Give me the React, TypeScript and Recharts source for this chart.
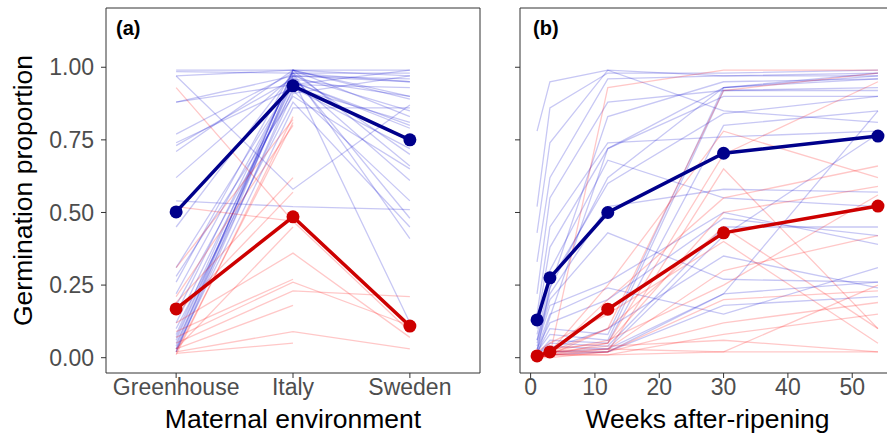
import React from "react"
import { LineChart, Line, XAxis, YAxis, ReferenceArea } from "recharts"

// panel (a): maternal environment
const envLabels = ["Greenhouse", "Italy", "Sweden"]
const envX = [1, 2, 3]
const meanBlueEnv = [0.502, 0.936, 0.75]
const meanRedEnv = [0.168, 0.485, 0.109]

// individual genotypes, one row per line: [Greenhouse, Italy, Sweden]
const blueEnv: (number | null)[][] = [
  [0.99, 0.99, 0.99],
  [0.985, 0.98, 0.98],
  [0.97, 0.58, 0.87],
  [0.97, 0.99, 0.97],
  [0.88, 0.97, 0.96],
  [0.88, 0.94, 0.93],
  [0.77, 0.98, 0.95],
  [0.74, 0.93, 0.81],
  [0.73, 0.96, 0.9],
  [0.71, 0.99, 0.66],
  [0.62, 0.97, 0.85],
  [0.54, 0.52, 0.51],
  [0.45, 0.98, 0.7],
  [0.31, 0.95, 0.79],
  [0.28, 0.9, 0.65],
  [0.26, 0.99, 0.83],
  [0.22, 0.96, 0.61],
  [0.18, 0.92, 0.54],
  [0.15, 0.97, 0.48],
  [0.12, 0.94, 0.99],
  [0.1, 0.88, 0.45],
  [0.08, 0.98, 0.41],
  [0.06, 0.96, 0.12],
  [0.05, 0.91, 0.97],
  [0.04, 0.99, 0.9],
  [0.03, 0.86, 0.86],
  [0.02, 0.93, 0.72],
  [0.02, 0.97, 0.95],
  [0.03, 0.99, 0.89],
  [0.07, 0.95, 0.8],
]

const redEnv: (number | null)[][] = [
  [0.93, 0.47, 0.09],
  [0.52, 0.47, null],
  [0.31, 0.82, null],
  [0.21, 0.8, null],
  [0.19, 0.62, null],
  [0.15, 0.57, null],
  [0.12, 0.36, 0.07],
  [0.09, 0.27, null],
  [0.07, 0.26, 0.11],
  [0.05, 0.23, 0.21],
  [0.03, 0.18, null],
  [0.02, 0.09, 0.03],
  [0.015, 0.05, null],
  [0.01, 0.83, null],
  [0.02, 0.81, null],
  [0.03, 0.45, null],
]

// panel (b): weeks of after-ripening
const weeks = [1, 3, 12, 30, 54]
const weekTicks = [0, 10, 20, 30, 40, 50]
const meanBlueWeeks = [0.13, 0.275, 0.5, 0.704, 0.763]
const meanRedWeeks = [0.006, 0.02, 0.167, 0.43, 0.522]

const blueWeeks: number[][] = [
  [0.78, 0.95, 0.99, 0.97, 0.98],
  [0.52, 0.86, 0.98, 0.98, 0.99],
  [0.43, 0.74, 0.99, 0.85, 0.81],
  [0.33, 0.62, 0.96, 0.97, 0.97],
  [0.22, 0.55, 0.88, 0.92, 0.93],
  [0.15, 0.45, 0.74, 0.76, 0.78],
  [0.12, 0.38, 0.72, 0.93, 0.97],
  [0.1, 0.3, 0.68, 0.55, 0.52],
  [0.08, 0.26, 0.6, 0.84, 0.9],
  [0.06, 0.22, 0.52, 0.58, 0.57],
  [0.05, 0.2, 0.43, 0.27, 0.26],
  [0.04, 0.18, 0.26, 0.5, 0.39],
  [0.03, 0.15, 0.24, 0.15, 0.31],
  [0.03, 0.12, 0.2, 0.48, 0.42],
  [0.02, 0.1, 0.08, 0.93, 0.96],
  [0.02, 0.08, 0.06, 0.92, 0.92],
  [0.01, 0.06, 0.05, 0.8, 0.85],
  [0.01, 0.05, 0.04, 0.45, 0.45],
  [0.01, 0.04, 0.03, 0.22, 0.85],
  [0.0, 0.03, 0.1, 0.35, 0.24],
  [0.0, 0.02, 0.02, 0.18, 0.21],
  [0.0, 0.02, 0.03, 0.42, 0.77],
  [0.02, 0.24, 0.83, 0.95, 0.96],
  [0.01, 0.14, 0.72, 0.9, 0.9],
  [0.0, 0.01, 0.02, 0.22, 0.26],
  [0.06, 0.24, 0.62, 0.93, 0.98],
]

const redWeeks: number[][] = [
  [0.0, 0.01, 0.93, 0.99, 0.99],
  [0.0, 0.02, 0.25, 0.78, 0.62],
  [0.0, 0.02, 0.1, 0.92, 0.98],
  [0.01, 0.03, 0.05, 0.7, 0.95],
  [0.0, 0.01, 0.2, 0.55, 0.66],
  [0.0, 0.01, 0.05, 0.5, 0.59],
  [0.0, 0.02, 0.03, 0.3, 0.42],
  [0.01, 0.02, 0.02, 0.2, 0.23],
  [0.0, 0.01, 0.02, 0.12, 0.19],
  [0.0, 0.01, 0.01, 0.08, 0.15],
  [0.0, 0.01, 0.01, 0.02, 0.02],
  [0.0, 0.0, 0.02, 0.65, 0.1],
  [0.0, 0.01, 0.03, 0.02, 0.25],
  [0.02, 0.05, 0.15, 0.4, 0.05],
  [0.0, 0.02, 0.06, 0.25, 0.56],
  [0.0, 0.01, 0.1, 0.45, 0.1],
  [0.01, 0.02, 0.04, 0.06, 0.02],
]

const yTicks = [0, 0.25, 0.5, 0.75, 1]
const Y_DOMAIN: [number, number] = [-0.0527, 1.204]

const FONT = '"Liberation Sans", Arial, Helvetica, sans-serif'
const BLUE = "#00008B"
const RED = "#CD0000"
const FAINT_BLUE = "#0000CD"
const FAINT_RED = "#FF0000"

const toPoints = (xs: number[], ys: (number | null)[]) =>
  xs.map((x, i) => ({ x, y: ys[i] }))

const tickStyle = { fill: "#4d4d4d", fontSize: 23, fontFamily: FONT }

const xTitle = (text: string) => (props: any) => {
  const vb = props.viewBox
  return (
    <text x={vb.x + vb.width / 2} y={vb.y + vb.height - 20} textAnchor="middle"
      fontSize={26.5} fontFamily={FONT} fill="#000">{text}</text>
  )
}

const yTitle = (props: any) => {
  const vb = props.viewBox
  const cy = vb.y + vb.height / 2
  return (
    <text x={32} y={cy} transform={`rotate(-90 32 ${cy})`} textAnchor="middle"
      fontSize={26.5} fontFamily={FONT} fill="#000">Germination proportion</text>
  )
}

function faintLines(rows: (number | null)[][], xs: number[], color: string, prefix: string) {
  return rows.map((row, i) => (
    <Line
      key={`${prefix}-${i}`}
      data={toPoints(xs, row)}
      dataKey="y"
      type="linear"
      stroke={color}
      strokeOpacity={0.22}
      strokeWidth={1.3}
      dot={false}
      activeDot={false}
      isAnimationActive={false}
    />
  ))
}

function meanLine(ys: number[], xs: number[], color: string, key: string) {
  return (
    <Line
      key={key}
      data={toPoints(xs, ys)}
      dataKey="y"
      type="linear"
      stroke={color}
      strokeWidth={3.5}
      dot={{ r: 6.5, fill: color, stroke: color, strokeWidth: 0 }}
      activeDot={false}
      isAnimationActive={false}
    />
  )
}

const panelLabel = (text: string, left: number) => (
  <div style={{
    position: "absolute", left, top: 18, fontFamily: FONT, fontWeight: "bold",
    fontSize: 20, lineHeight: "20px", color: "#000",
  }}>{text}</div>
)

export default function App() {
  return (
    <div style={{ position: "absolute", left: 0, top: 0, width: 887, height: 448, overflow: "hidden", background: "#fff" }}>
      <div style={{ position: "absolute", left: 0, top: 0 }}>
        <LineChart width={481} height={448} margin={{ top: 8, right: 1, bottom: 0, left: 0 }}>
          <XAxis
            type="number"
            dataKey="x"
            domain={[0.4, 3.6]}
            ticks={envX}
            allowDataOverflow
            tickFormatter={(v) => envLabels[v - 1]}
            height={75}
            axisLine={false}
            tickLine={{ stroke: "#333333" }}
            tickSize={5}
            tickMargin={1}
            tick={tickStyle}
            label={{ content: xTitle("Maternal environment") }}
          />
          <YAxis
            type="number"
            domain={Y_DOMAIN}
            ticks={yTicks}
            allowDataOverflow
            width={106}
            axisLine={false}
            tickLine={{ stroke: "#333333" }}
            tickSize={5}
            tickMargin={7}
            tick={tickStyle}
            tickFormatter={(v) => v.toFixed(2)}
            label={{ content: yTitle }}
          />
          {faintLines(blueEnv, envX, FAINT_BLUE, "be")}
          {faintLines(redEnv, envX, FAINT_RED, "re")}
          {meanLine(meanBlueEnv, envX, BLUE, "mbe")}
          {meanLine(meanRedEnv, envX, RED, "mre")}
          <ReferenceArea x1={0.4} x2={3.6} y1={Y_DOMAIN[0]} y2={Y_DOMAIN[1]}
            fill="none" stroke="#333333" strokeWidth={1} ifOverflow="visible" />
        </LineChart>
      </div>
      <div style={{ position: "absolute", left: 480, top: 0 }}>
        <LineChart width={415} height={448} margin={{ top: 8, right: 0, bottom: 0, left: 0 }}>
          <XAxis
            type="number"
            dataKey="x"
            domain={[-1.65, 56.65]}
            ticks={weekTicks}
            allowDataOverflow
            height={75}
            axisLine={false}
            tickLine={{ stroke: "#333333" }}
            tickSize={5}
            tickMargin={1}
            tick={tickStyle}
            label={{ content: xTitle("Weeks after-ripening") }}
          />
          <YAxis
            type="number"
            domain={Y_DOMAIN}
            ticks={yTicks}
            allowDataOverflow
            width={40}
            axisLine={false}
            tickLine={{ stroke: "#333333" }}
            tickSize={5}
            tick={tickStyle}
            tickFormatter={() => ""}
          />
          {faintLines(blueWeeks, weeks, FAINT_BLUE, "bw")}
          {faintLines(redWeeks, weeks, FAINT_RED, "rw")}
          {meanLine(meanBlueWeeks, weeks, BLUE, "mbw")}
          {meanLine(meanRedWeeks, weeks, RED, "mrw")}
          <ReferenceArea x1={-1.65} x2={56.65} y1={Y_DOMAIN[0]} y2={Y_DOMAIN[1]}
            fill="none" stroke="#333333" strokeWidth={1} ifOverflow="visible" />
        </LineChart>
      </div>
      {panelLabel("(a)", 116)}
      {panelLabel("(b)", 533)}
    </div>
  )
}
